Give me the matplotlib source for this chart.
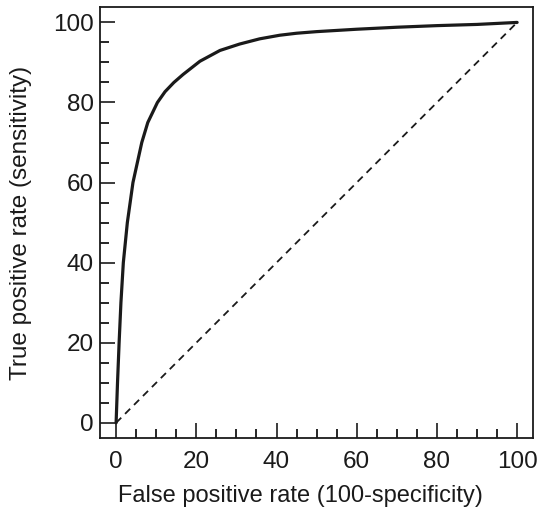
import numpy as np
import matplotlib
matplotlib.use('Agg')
import matplotlib.pyplot as plt

# ROC curve points
fpr = [0, 0.35, 0.75, 1.2, 1.8, 2.3, 2.8, 3.5, 4.2, 5.3, 6.4, 7.9, 10.3, 12.2,
       14.4, 16.7, 20.9, 25.9, 30.8, 35.8, 40.8, 45, 50, 60, 70, 80, 90, 100]
tpr = [0, 10, 20, 30, 40, 45, 50, 55, 60, 65, 70, 75, 80, 82.7,
       85, 87.0, 90.3, 93.0, 94.6, 95.9, 96.8, 97.3, 97.7, 98.3, 98.8, 99.2, 99.5, 100]

# chance line
diag = [0, 100]

major_ticks = np.arange(0, 101, 20)
minor_ticks = np.arange(0, 101, 5)

plt.rcParams['font.family'] = ['Liberation Sans', 'DejaVu Sans']

fig = plt.figure(figsize=(5.38, 5.15), dpi=100)
ax = fig.add_axes([0.186, 0.1495, 0.805, 0.8365])

ax.plot(fpr, tpr, color='#1a1a1a', linewidth=2.3, solid_capstyle='round', solid_joinstyle='round')
ax.plot(diag, diag, color='#1a1a1a', linewidth=1.3, linestyle=(0, (4, 3)))

ax.set_xlim(-4, 104)
ax.set_ylim(-3.8, 103.8)
ax.set_xticks(major_ticks)
ax.set_yticks(major_ticks)
ax.set_xticks(minor_ticks, minor=True)
ax.set_yticks(minor_ticks, minor=True)

ax.tick_params(which='major', direction='in', length=11, width=1.2, labelsize=17.5, colors='#1a1a1a')
ax.tick_params(axis='x', which='major', pad=9.5)
ax.tick_params(axis='y', which='major', pad=4.5)
ax.tick_params(which='minor', direction='in', length=6.5, width=1.2)
for s in ax.spines.values():
    s.set_linewidth(1.3)
    s.set_color('#1a1a1a')

ax.set_xlabel('False positive rate (100-specificity)', fontsize=17, color='#1a1a1a')
ax.set_ylabel('True positive rate (sensitivity)', fontsize=17.5, color='#1a1a1a')
ax.xaxis.set_label_coords(0.462, -0.108)
ax.yaxis.set_label_coords(-0.157, 0.5)

fig.savefig('out.png', dpi=100)
